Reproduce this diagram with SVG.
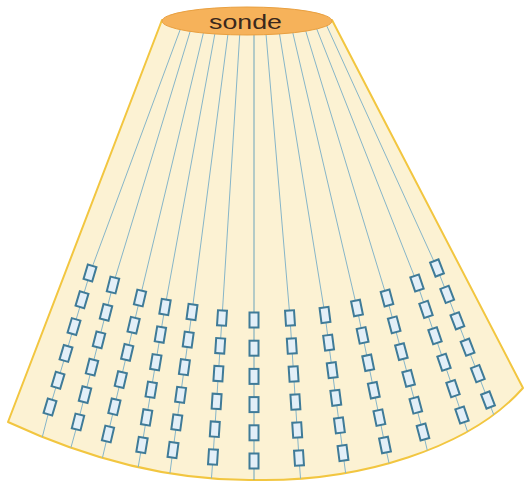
<svg xmlns="http://www.w3.org/2000/svg" xmlns:xlink="http://www.w3.org/1999/xlink" width="525" height="484" viewBox="0 0 525 484">
<style>
.fan{fill:#fcf2d3;stroke:#f2c640;stroke-width:2;stroke-linejoin:round}
.beam{fill:none;stroke:#86b5c8;stroke-width:1}
.beam.c{stroke:#6aa3ba}
.el{fill:#e3eff8;stroke:#3f7b98;stroke-width:2}
.probe{fill:#f6b25a;stroke:#e9a040;stroke-width:1}
.lbl{font-family:"Liberation Sans",Arial,sans-serif;font-size:21px;fill:#3a281c}
</style>
<defs>
<clipPath id="fanclip"><path d="M162,20 L8,422 C90,460 175,481 255,480 C360,482 470,448 523,388 L332,20 Z"/></clipPath>
<rect id="e" class="el" x="-4.5" y="-7.5" width="9" height="15"/>
</defs>
<rect width="525" height="484" fill="#ffffff"/>
<g id="fan">
<path class="fan" d="M162,20 L8,422 C90,460 175,481 255,480 C360,482 470,448 523,388 L332,20 Z"/>
</g>
<g id="beams" clip-path="url(#fanclip)">
<polyline class="beam" points="183,22 90,273 50,407 40,446"/>
<polyline class="beam" points="193,22 113,285 78,422 70,451"/>
<polyline class="beam" points="206,22 140,298 108,434 101,464"/>
<polyline class="beam" points="217,22 165,307 142,445 137,474"/>
<polyline class="beam" points="229.5,22 192,312 173,450 169,480"/>
<polyline class="beam" points="240.5,22 222,318 213,457 211,485"/>
<polyline class="beam c" points="254,22 254,320 254,461 254,486"/>
<polyline class="beam" points="265,22 290,318 299,458 301,485"/>
<polyline class="beam" points="277.6,22 325,315 343,453 346.5,480"/>
<polyline class="beam" points="290.3,22 357,308 385,445 391,472"/>
<polyline class="beam" points="303,22 387,298 423,432 430,462"/>
<polyline class="beam" points="314,22 417,283 462,415 471,442"/>
<polyline class="beam" points="325,22 437,268 488,400 497,423"/>
</g>
<g id="col-L6">
<use xlink:href="#e" transform="translate(90,273) rotate(16.6)"/>
<use xlink:href="#e" transform="translate(82,299.8) rotate(16.6)"/>
<use xlink:href="#e" transform="translate(74,326.6) rotate(16.6)"/>
<use xlink:href="#e" transform="translate(66,353.4) rotate(16.6)"/>
<use xlink:href="#e" transform="translate(58,380.2) rotate(16.6)"/>
<use xlink:href="#e" transform="translate(50,407) rotate(16.6)"/>
</g>
<g id="col-L5">
<use xlink:href="#e" transform="translate(113,285) rotate(14.3)"/>
<use xlink:href="#e" transform="translate(106,312.4) rotate(14.3)"/>
<use xlink:href="#e" transform="translate(99,339.8) rotate(14.3)"/>
<use xlink:href="#e" transform="translate(92,367.2) rotate(14.3)"/>
<use xlink:href="#e" transform="translate(85,394.6) rotate(14.3)"/>
<use xlink:href="#e" transform="translate(78,422) rotate(14.3)"/>
</g>
<g id="col-L4">
<use xlink:href="#e" transform="translate(140,298) rotate(13.2)"/>
<use xlink:href="#e" transform="translate(133.6,325.2) rotate(13.2)"/>
<use xlink:href="#e" transform="translate(127.2,352.4) rotate(13.2)"/>
<use xlink:href="#e" transform="translate(120.8,379.6) rotate(13.2)"/>
<use xlink:href="#e" transform="translate(114.4,406.8) rotate(13.2)"/>
<use xlink:href="#e" transform="translate(108,434) rotate(13.2)"/>
</g>
<g id="col-L3">
<use xlink:href="#e" transform="translate(165,307) rotate(9.5)"/>
<use xlink:href="#e" transform="translate(160.4,334.6) rotate(9.5)"/>
<use xlink:href="#e" transform="translate(155.8,362.2) rotate(9.5)"/>
<use xlink:href="#e" transform="translate(151.2,389.8) rotate(9.5)"/>
<use xlink:href="#e" transform="translate(146.6,417.4) rotate(9.5)"/>
<use xlink:href="#e" transform="translate(142,445) rotate(9.5)"/>
</g>
<g id="col-L2">
<use xlink:href="#e" transform="translate(192,312) rotate(7.8)"/>
<use xlink:href="#e" transform="translate(188.2,339.6) rotate(7.8)"/>
<use xlink:href="#e" transform="translate(184.4,367.2) rotate(7.8)"/>
<use xlink:href="#e" transform="translate(180.6,394.8) rotate(7.8)"/>
<use xlink:href="#e" transform="translate(176.8,422.4) rotate(7.8)"/>
<use xlink:href="#e" transform="translate(173,450) rotate(7.8)"/>
</g>
<g id="col-L1">
<use xlink:href="#e" transform="translate(222,318) rotate(3.7)"/>
<use xlink:href="#e" transform="translate(220.2,345.8) rotate(3.7)"/>
<use xlink:href="#e" transform="translate(218.4,373.6) rotate(3.7)"/>
<use xlink:href="#e" transform="translate(216.6,401.4) rotate(3.7)"/>
<use xlink:href="#e" transform="translate(214.8,429.2) rotate(3.7)"/>
<use xlink:href="#e" transform="translate(213,457) rotate(3.7)"/>
</g>
<g id="col-C">
<use xlink:href="#e" transform="translate(254,320)"/>
<use xlink:href="#e" transform="translate(254,348.2)"/>
<use xlink:href="#e" transform="translate(254,376.4)"/>
<use xlink:href="#e" transform="translate(254,404.6)"/>
<use xlink:href="#e" transform="translate(254,432.8)"/>
<use xlink:href="#e" transform="translate(254,461)"/>
</g>
<g id="col-R1">
<use xlink:href="#e" transform="translate(290,318) rotate(-3.7)"/>
<use xlink:href="#e" transform="translate(291.8,346) rotate(-3.7)"/>
<use xlink:href="#e" transform="translate(293.6,374) rotate(-3.7)"/>
<use xlink:href="#e" transform="translate(295.4,402) rotate(-3.7)"/>
<use xlink:href="#e" transform="translate(297.2,430) rotate(-3.7)"/>
<use xlink:href="#e" transform="translate(299,458) rotate(-3.7)"/>
</g>
<g id="col-R2">
<use xlink:href="#e" transform="translate(325,315) rotate(-7.4)"/>
<use xlink:href="#e" transform="translate(328.6,342.6) rotate(-7.4)"/>
<use xlink:href="#e" transform="translate(332.2,370.2) rotate(-7.4)"/>
<use xlink:href="#e" transform="translate(335.8,397.8) rotate(-7.4)"/>
<use xlink:href="#e" transform="translate(339.4,425.4) rotate(-7.4)"/>
<use xlink:href="#e" transform="translate(343,453) rotate(-7.4)"/>
</g>
<g id="col-R3">
<use xlink:href="#e" transform="translate(357,308) rotate(-11.6)"/>
<use xlink:href="#e" transform="translate(362.6,335.4) rotate(-11.6)"/>
<use xlink:href="#e" transform="translate(368.2,362.8) rotate(-11.6)"/>
<use xlink:href="#e" transform="translate(373.8,390.2) rotate(-11.6)"/>
<use xlink:href="#e" transform="translate(379.4,417.6) rotate(-11.6)"/>
<use xlink:href="#e" transform="translate(385,445) rotate(-11.6)"/>
</g>
<g id="col-R4">
<use xlink:href="#e" transform="translate(387,298) rotate(-15)"/>
<use xlink:href="#e" transform="translate(394.2,324.8) rotate(-15)"/>
<use xlink:href="#e" transform="translate(401.4,351.6) rotate(-15)"/>
<use xlink:href="#e" transform="translate(408.6,378.4) rotate(-15)"/>
<use xlink:href="#e" transform="translate(415.8,405.2) rotate(-15)"/>
<use xlink:href="#e" transform="translate(423,432) rotate(-15)"/>
</g>
<g id="col-R5">
<use xlink:href="#e" transform="translate(417,283) rotate(-18.8)"/>
<use xlink:href="#e" transform="translate(426,309.4) rotate(-18.8)"/>
<use xlink:href="#e" transform="translate(435,335.8) rotate(-18.8)"/>
<use xlink:href="#e" transform="translate(444,362.2) rotate(-18.8)"/>
<use xlink:href="#e" transform="translate(453,388.6) rotate(-18.8)"/>
<use xlink:href="#e" transform="translate(462,415) rotate(-18.8)"/>
</g>
<g id="col-R6">
<use xlink:href="#e" transform="translate(437,268) rotate(-21.1)"/>
<use xlink:href="#e" transform="translate(447.2,294.4) rotate(-21.1)"/>
<use xlink:href="#e" transform="translate(457.4,320.8) rotate(-21.1)"/>
<use xlink:href="#e" transform="translate(467.6,347.2) rotate(-21.1)"/>
<use xlink:href="#e" transform="translate(477.8,373.6) rotate(-21.1)"/>
<use xlink:href="#e" transform="translate(488,400) rotate(-21.1)"/>
</g>
<g id="probe">
<ellipse class="probe" cx="247" cy="21" rx="85" ry="14"/>
<text class="lbl" x="245.5" y="28.5" text-anchor="middle" textLength="73" lengthAdjust="spacingAndGlyphs">sonde</text>
</g>
</svg>
